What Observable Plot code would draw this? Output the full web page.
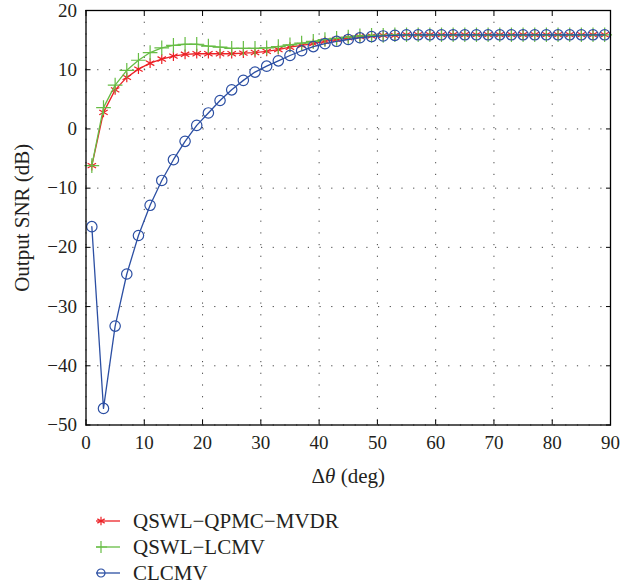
<!DOCTYPE html>
<html><head><meta charset="utf-8">
<script src="https://cdn.jsdelivr.net/npm/d3@7"></script>
<script src="https://cdn.jsdelivr.net/npm/@observablehq/plot@0.6"></script>
<style>
body{margin:0;background:#fff;font-family:"Liberation Serif",serif;}
#legend{margin-left:96px;margin-top:13px}
.item{display:flex;align-items:center;height:26px;font-size:21px;color:#231f20;line-height:26px}
.item svg{margin-right:13px;display:block}
</style></head><body><div id="chart"></div><div id="legend"></div>
<script>
const angles = [1,3,5,7,9,11,13,15,17,19,21,23,25,27,29,31,33,35,37,39,41,43,45,47,49,51,53,55,57,59,61,63,65,67,69,71,73,75,77,79,81,83,85,87,89];
const qpmcMvdr = [-6.2,2.8,6.6,8.7,10.1,11.1,11.8,12.3,12.6,12.7,12.7,12.7,12.7,12.8,12.9,13.1,13.4,13.8,14.1,14.4,14.8,15.1,15.4,15.6,15.7,15.8,15.8,15.9,15.9,15.9,15.9,15.9,15.9,15.9,15.9,15.9,15.9,15.9,15.9,15.9,15.9,15.9,15.9,15.9,15.9];
const qswlLcmv = [-6.2,3.6,7.4,9.9,11.6,12.9,13.7,14.1,14.3,14.3,14.0,13.8,13.6,13.6,13.6,13.7,13.9,14.2,14.5,14.8,15.1,15.3,15.5,15.7,15.8,15.8,15.9,15.9,15.9,15.9,15.9,15.9,15.9,15.9,15.9,15.9,15.9,15.9,15.9,15.9,15.9,15.9,15.9,15.9,15.9];
const clcmv = [-16.5,-47.2,-33.3,-24.5,-18.0,-12.9,-8.7,-5.2,-2.1,0.6,2.7,4.8,6.6,8.2,9.6,10.6,11.5,12.4,13.2,13.9,14.4,14.8,15.1,15.4,15.6,15.7,15.8,15.9,15.9,15.9,15.9,15.9,15.9,15.9,15.9,15.9,15.9,15.9,15.9,15.9,15.9,15.9,15.9,15.9,15.9];
const seriesNames = ["QSWL−QPMC−MVDR","QSWL−LCMV","CLCMV"];
const seriesColors = ["#ec2227","#67bd45","#2c4fa3"];
const seriesSymbols = ["asterisk","plus","circle"];
const seriesRadius = [4.6, 4.8, 5.2];
const xTicks = [0,10,20,30,40,50,60,70,80,90];
const yTicks = [-50,-40,-30,-20,-10,0,10,20];

const allSeries = [qpmcMvdr, qswlLcmv, clcmv];
const rows = [];
allSeries.forEach((vals,i)=>vals.forEach((v,j)=>rows.push({series:seriesNames[i], angle:angles[j], snr:v})));

const gridStyle = {stroke:"#444", strokeOpacity:1, strokeWidth:1, strokeDasharray:"1.2,10.5"};
const marks = [
  Plot.gridX(xTicks, gridStyle),
  Plot.gridY(yTicks, gridStyle),
];
seriesNames.forEach((name,i)=>{
  const d = rows.filter(r=>r.series===name);
  marks.push(Plot.line(d, {x:"angle", y:"snr", stroke:"series", strokeWidth:1.3}));
  marks.push(Plot.dot(d, {x:"angle", y:"snr", stroke:"series", symbol:"series", r:seriesRadius[i], strokeWidth:1.2, fill:"none"}));
});
const fs = 19;
marks.push(
  Plot.frame({stroke:"#000", strokeWidth:1.3}),
  Plot.axisX(xTicks, {anchor:"bottom", tickSize:-5, tickPadding:15, stroke:"#000", fontSize:fs, label:"Δθ (deg)", labelAnchor:"center", labelArrow:"none", labelOffset:58}),
  Plot.axisX(xTicks, {anchor:"top", tickSize:-5, tickFormat:()=>"", label:null, stroke:"#000"}),
  Plot.axisY(yTicks, {anchor:"left", tickSize:-5, tickPadding:14, stroke:"#000", fontSize:fs, label:"Output SNR (dB)", labelAnchor:"center", labelArrow:"none", labelOffset:72}),
  Plot.axisY(yTicks, {anchor:"right", tickSize:-5, tickFormat:()=>"", label:null, stroke:"#000"})
);

const chart = Plot.plot({
  width:636, height:495,
  marginLeft:85.5, marginRight:26, marginTop:10, marginBottom:70.5,
  style:{fontFamily:"'Liberation Serif', serif", fontSize:"19px", color:"#231f20", background:"#fff"},
  x:{domain:[0,90]},
  y:{domain:[-50,20]},
  color:{domain:seriesNames, range:seriesColors},
  symbol:{domain:seriesNames, range:seriesSymbols},
  marks
});
d3.select(chart).selectAll("text").filter(function(){return this.textContent==="Δθ (deg)";})
  .attr("font-size", 21)
  .html('Δ<tspan font-style="italic">θ</tspan> (deg)');
d3.select(chart).selectAll("text").filter(function(){return this.textContent==="Output SNR (dB)";})
  .attr("font-size", 21);
document.getElementById("chart").appendChild(chart);

const legend = d3.select("#legend");
seriesNames.forEach((name,i)=>{
  const item = legend.append("div").attr("class","item");
  const s = item.append("svg").attr("width",24).attr("height",14);
  s.append("line").attr("x1",0).attr("x2",24).attr("y1",7).attr("y2",7).attr("stroke",seriesColors[i]).attr("stroke-width",1.3);
  const sym = {asterisk:d3.symbolAsterisk, plus:d3.symbolPlus, circle:d3.symbolCircle}[seriesSymbols[i]];
  s.append("path").attr("d", d3.symbol(sym, Math.PI*16)()).attr("transform","translate(5,7)")
    .attr("fill","none").attr("stroke",seriesColors[i]).attr("stroke-width",1.2);
  item.append("span").text(name);
});
</script></body></html>
